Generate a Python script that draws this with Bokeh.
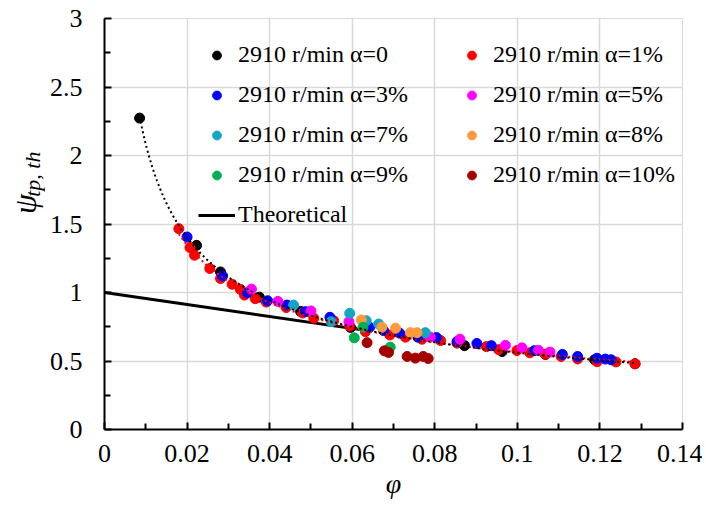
import numpy as np
from bokeh.plotting import figure
from bokeh.layouts import row
from bokeh.models import Legend, LegendItem, FixedTicker, Range1d
from bokeh.core.properties import value
from bokeh.embed import file_html
from bokeh.resources import INLINE

# ---------------- data ----------------
phi_a0 = [0.0085, 0.0223, 0.0281, 0.0375, 0.0475, 0.0596, 0.0872, 0.0963, 0.1068, 0.1187, 0.1285]
psi_a0 = [2.273, 1.344, 1.150, 0.966, 0.862, 0.745, 0.612, 0.569, 0.548, 0.509, 0.480]

phi_a1 = [0.0180, 0.0207, 0.0218, 0.0255, 0.0281, 0.0309, 0.0329, 0.0339, 0.0365, 0.0392,
          0.0440, 0.0480, 0.0507, 0.0555, 0.0594, 0.0632, 0.0691, 0.0729, 0.0769, 0.0814,
          0.0854, 0.0925, 0.0955, 0.0999, 0.1030, 0.1068, 0.1106, 0.1146, 0.1193, 0.1239, 0.1285]
psi_a1 = [1.466, 1.328, 1.272, 1.175, 1.102, 1.060, 1.023, 0.981, 0.955, 0.930,
          0.890, 0.850, 0.812, 0.794, 0.756, 0.714, 0.690, 0.674, 0.659, 0.649,
          0.630, 0.605, 0.583, 0.576, 0.560, 0.550, 0.533, 0.515, 0.495, 0.493, 0.480]

phi_a3 = [0.0200, 0.0286, 0.0346, 0.0395, 0.0442, 0.0487, 0.0546, 0.0642, 0.0676, 0.0715,
          0.0759, 0.0804, 0.0854, 0.0902, 0.0937, 0.1041, 0.1109, 0.1146, 0.1193, 0.1213, 0.1227]
psi_a3 = [1.405, 1.121, 0.998, 0.940, 0.908, 0.860, 0.819, 0.746, 0.722, 0.703,
          0.674, 0.671, 0.642, 0.628, 0.612, 0.575, 0.548, 0.533, 0.520, 0.514, 0.509]

phi_a5 = [0.0356, 0.0420, 0.0500, 0.0592, 0.0789, 0.0861, 0.0971, 0.1011, 0.1051, 0.1079]
psi_a5 = [1.025, 0.935, 0.865, 0.787, 0.674, 0.659, 0.614, 0.596, 0.578, 0.565]

phi_a7 = [0.0458, 0.0549, 0.0594, 0.0634, 0.0664, 0.0777]
psi_a7 = [0.908, 0.787, 0.848, 0.794, 0.770, 0.707]

phi_a8 = [0.0622, 0.0672, 0.0705, 0.0741, 0.0757]
psi_a8 = [0.800, 0.746, 0.739, 0.707, 0.707]

phi_a9 = [0.0605, 0.0626, 0.0692]
psi_a9 = [0.669, 0.746, 0.601]

phi_a10 = [0.0636, 0.0678, 0.0688, 0.0733, 0.0753, 0.0772, 0.0784]
psi_a10 = [0.634, 0.574, 0.562, 0.533, 0.521, 0.533, 0.518]

phi_th = [0.0, 0.0640]
psi_th = [1.0, 0.720]

series_names = ["2910 r/min \u03b1=0", "2910 r/min \u03b1=1%", "2910 r/min \u03b1=3%",
                "2910 r/min \u03b1=5%", "2910 r/min \u03b1=7%", "2910 r/min \u03b1=8%",
                "2910 r/min \u03b1=9%", "2910 r/min \u03b1=10%"]
series_colors = ["#000000", "#FF0000", "#0000FF", "#FF00FF", "#12A6C4", "#FF9A3C", "#00B050", "#A50000"]

x_ticks = [0, 0.02, 0.04, 0.06, 0.08, 0.1, 0.12, 0.14]
x_tick_labels = ["0", "0.02", "0.04", "0.06", "0.08", "0.1", "0.12", "0.14"]
x_minor = [0.01, 0.03, 0.05, 0.07, 0.09, 0.11, 0.13]
y_ticks = [0, 0.5, 1, 1.5, 2, 2.5, 3]
y_tick_labels = ["0", "0.5", "1", "1.5", "2", "2.5", "3"]
y_minor = [0.25, 0.75, 1.25, 1.75, 2.25, 2.75]

x_title = "\u03c6"
y_title_main = "\u03c8"
y_title_sub = "tp, th"

FONT = "Liberation Serif"
H = 507

# ---------------- main figure ----------------
p = figure(width=657, height=H, x_range=Range1d(0, 0.14), y_range=Range1d(0, 3),
           output_backend="svg", toolbar_location=None,
           min_border_left=59, min_border_right=20, min_border_top=18, min_border_bottom=78)
p.background_fill_color = "white"
p.border_fill_color = "white"
p.outline_line_color = "#D9D9D9"

for ax, ticks, labels, minor in ((p.xaxis[0], x_ticks, x_tick_labels, x_minor),
                                 (p.yaxis[0], y_ticks, y_tick_labels, y_minor)):
    ax.ticker = FixedTicker(ticks=ticks, minor_ticks=minor)
    ax.major_label_overrides = {t: l for t, l in zip(ticks, labels)}
    ax.axis_line_width = 2
    ax.axis_line_color = "black"
    ax.major_tick_in = 7
    ax.major_tick_out = 0
    ax.minor_tick_in = 6
    ax.minor_tick_out = 0
    ax.major_tick_line_width = 2
    ax.minor_tick_line_width = 2
    ax.major_tick_line_color = "black"
    ax.minor_tick_line_color = "black"
    ax.major_label_text_font = FONT
    ax.major_label_text_font_size = "26px"
    ax.major_label_text_color = "black"

p.xaxis.major_label_standoff = 15
p.yaxis.major_label_standoff = 22
p.xaxis.axis_label = x_title
p.xaxis.axis_label_text_font = FONT
p.xaxis.axis_label_text_font_style = "italic"
p.xaxis.axis_label_text_font_size = "28px"
p.xaxis.axis_label_text_color = "black"
p.xaxis.axis_label_standoff = 3

p.xgrid.grid_line_color = "#D9D9D9"
p.ygrid.grid_line_color = "#D9D9D9"
p.xgrid.grid_line_width = 1.5
p.ygrid.grid_line_width = 1.5

# theoretical line (under markers)
r_th = p.line(phi_th, psi_th, line_color="black", line_width=3)

all_x = [phi_a0, phi_a1, phi_a3, phi_a5, phi_a7, phi_a8, phi_a9, phi_a10]
all_y = [psi_a0, psi_a1, psi_a3, psi_a5, psi_a7, psi_a8, psi_a9, psi_a10]
renderers = []
for xs, ys, c in zip(all_x, all_y, series_colors):
    r = p.scatter(xs, ys, size=10, marker="circle", fill_color=c, line_color=c)
    renderers.append(r)

# power-law trendlines fitted to the alpha=0 and alpha=1% data
def power_trend(xs, ys):
    lx, ly = np.log(np.array(xs)), np.log(np.array(ys))
    b, la = np.polyfit(lx, ly, 1)
    xx = np.linspace(min(xs), max(xs), 200)
    return xx, np.exp(la) * xx ** b

tx0, ty0 = power_trend(phi_a0, psi_a0)
tx1, ty1 = power_trend(phi_a1, psi_a1)
p.line(tx1, ty1, line_color="#FF0000", line_width=2, line_dash="2 3")
p.line(tx0, ty0, line_color="black", line_width=2, line_dash="2 3")

# ---------------- legends ----------------
def make_legend(items, loc):
    lg = Legend(items=items, location=loc, orientation="vertical")
    lg.border_line_color = None
    lg.background_fill_alpha = 0
    lg.padding = 0
    lg.margin = 0
    lg.spacing = 13
    lg.glyph_width = 37
    lg.glyph_height = 22
    lg.label_standoff = 3
    lg.label_text_font = FONT
    lg.label_text_font_size = "24px"
    lg.label_text_color = "black"
    return lg

left_idx = [0, 2, 4, 6]
right_idx = [1, 3, 5, 7]
items1 = [LegendItem(label=series_names[i], renderers=[renderers[i]]) for i in left_idx]
items1.append(LegendItem(label="Theoretical", renderers=[r_th]))
items2 = [LegendItem(label=series_names[i], renderers=[renderers[i]]) for i in right_idx]
p.add_layout(make_legend(items1, (94, 201)))
p.add_layout(make_legend(items2, (349, 241)))

# ---------------- y-axis title (narrow side figure) ----------------
side = figure(width=45, height=H, x_range=Range1d(0, 45), y_range=Range1d(0, H),
              output_backend="svg", toolbar_location=None, min_border=0,
              x_axis_location=None, y_axis_location=None)
side.outline_line_color = None
side.background_fill_color = "white"
side.border_fill_color = "white"
side.grid.visible = False
side.text(x=[24], y=[H - 229], text=[y_title_main], angle=90, angle_units="deg",
          text_font=value(FONT), text_font_style="italic", text_font_size="32px",
          text_align="center", text_baseline="middle", text_color="black")
side.text(x=[32], y=[H - 192], text=[y_title_sub], angle=90, angle_units="deg",
          text_font=value(FONT), text_font_style="italic", text_font_size="22px",
          text_align="center", text_baseline="middle", text_color="black")

layout = row(side, p)
open("out.html", "w").write(file_html(layout, INLINE))
